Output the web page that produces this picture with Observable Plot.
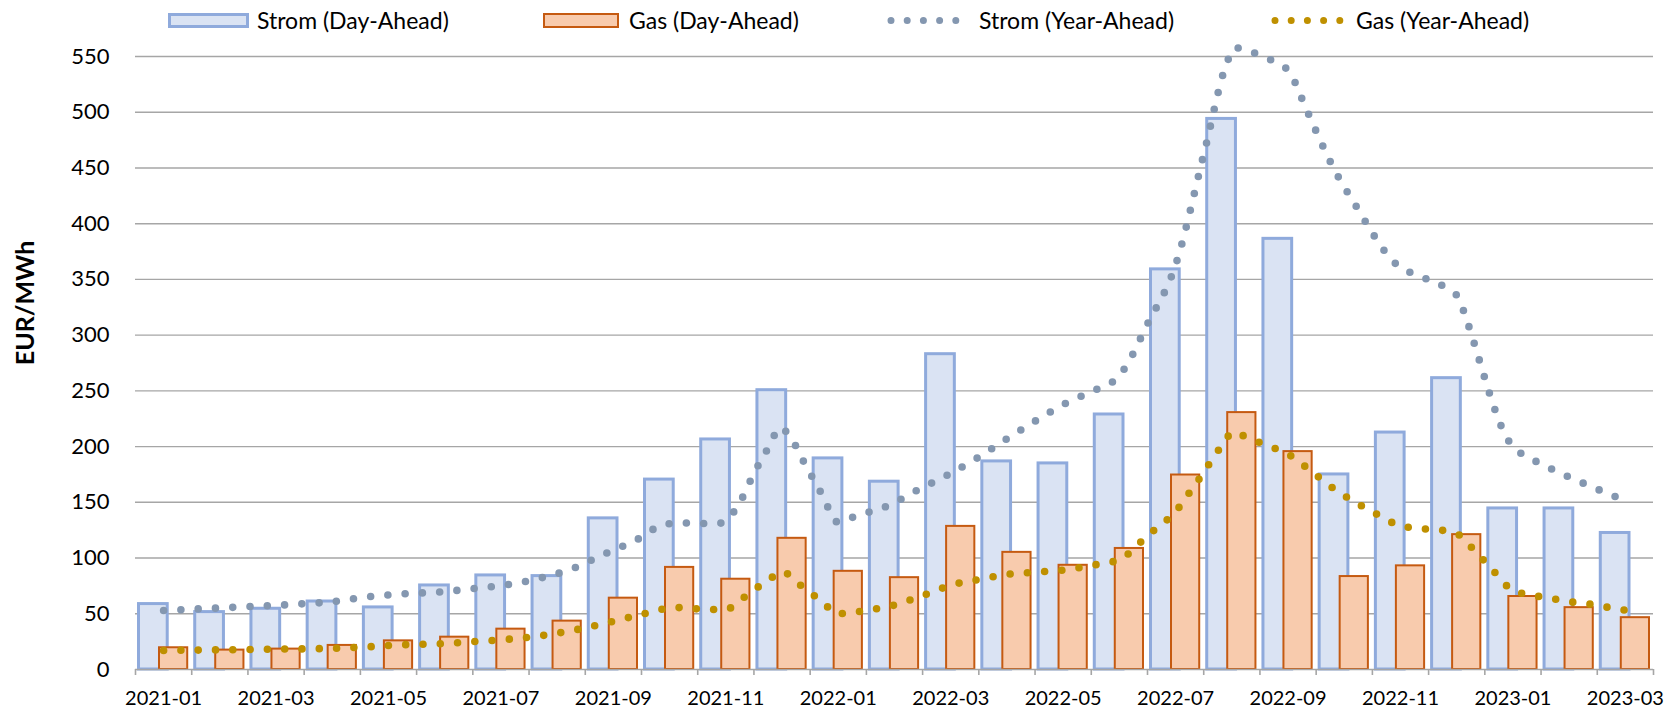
<!DOCTYPE html>
<html>
<head>
<meta charset="utf-8">
<script src="https://cdn.jsdelivr.net/npm/d3@7"></script>
<script src="https://cdn.jsdelivr.net/npm/@observablehq/plot@0.6"></script>
<style>
  html, body { margin: 0; padding: 0; background: #fff; }
  body { width: 1666px; height: 710px; overflow: hidden; font-family: Lato, "Open Sans", sans-serif; color: #000; }
  #legend { position: relative; width: 1666px; height: 36px; font-size: 23px; }
  .sw { box-sizing: border-box; height: 15px; }
  .lbl { position: absolute; top: 6px; white-space: nowrap; line-height: 28px; }
  #chart svg { display: block; }
</style>
</head>
<body>
<div id="legend"></div>
<div id="chart"></div>
<script>
// ---- data ----
const months = ["2021-01","2021-02","2021-03","2021-04","2021-05","2021-06","2021-07","2021-08","2021-09","2021-10","2021-11","2021-12",
                "2022-01","2022-02","2022-03","2022-04","2022-05","2022-06","2022-07","2022-08","2022-09","2022-10","2022-11","2022-12",
                "2023-01","2023-02","2023-03"];
const stromDayAhead = [58.7,51.5,54.5,61,55.7,75.4,84.4,83.8,135.6,170.4,206.4,250.6,
                       189.4,168.5,282.9,186.7,184.9,228.8,359,494,386.4,175,212.6,261.4,
                       144.5,144.5,122.5];
const gasDayAhead = [19.5,17.4,18.3,21.6,25.7,29,36.2,43.4,64,91.6,81,117.7,
                     88.1,82.4,128.4,105.1,93.5,108.6,174.5,230.5,195.5,83.4,93,121,
                     65.5,55.5,46.5];
// year-ahead curves: position in months since 2021-01 start, value EUR/MWh
const stromYearAheadT = [0.5,1.7,2.9,3.5,4.1,4.8,5.4,6.0,6.6,7.2,7.8,8.3,8.9,9.4,9.7,10.35,10.55,10.75,11.0,11.3,11.45,11.6,11.9,12.2,12.5,
                         12.8,13.4,13.9,14.45,15.0,15.5,16.0,16.54,17.1,17.4,17.57,18.0,18.5,19.0,19.41,19.55,19.75,20.31,20.55,20.67,
                         21.45,21.61,22.49,22.76,23.32,23.54,23.64,24.46,24.67,24.94,26.4];
const stromYearAheadV = [53,55.7,58.7,60.8,65,68,69.5,72.5,76,82,91,102.7,116,130,131.5,130.8,136,150,176,203,217,212,185,158,132,
                         137.4,147.3,160.7,174.7,190.6,207,222.8,238.7,251.5,259,268.5,310,363,462,544,558,555.5,543.6,535,521,
                         437,424,361,354.4,342,333,319,202.5,193,186,153.5];
const gasYearAheadT = [0.5,1.1,2.6,3.55,4.15,4.76,5.38,6.0,6.6,7.2,7.8,8.4,9.0,9.6,9.9,10.2,10.5,10.76,11.0,11.26,11.51,11.75,12.0,12.24,12.47,
                       12.78,13.08,13.38,13.67,13.95,14.25,14.54,14.83,15.13,15.44,15.74,16.04,16.34,16.65,16.95,17.25,17.54,17.77,18.0,
                       18.23,18.46,18.64,18.82,19.0,19.16,19.34,19.52,19.8,20.09,20.37,20.64,20.87,21.11,21.36,21.62,21.89,22.15,22.42,
                       22.71,23.01,23.32,23.58,23.79,24.0,24.21,24.42,24.68,24.97,25.28,25.58,25.89,26.19,26.49];
const gasYearAheadV = [17,17.4,18.3,19,20.4,22.2,23,25,27,30.2,35.3,42,49.4,55.6,54.7,53.8,53.8,62.4,71.4,80.4,87.8,78.6,69,59.7,50,
                       51.4,53.8,56.2,60.6,65.4,71.1,76.2,79.2,81.8,85.1,86.3,87.5,88.4,90.2,92.9,95.6,99,109.5,119.6,
                       130,139,151.2,164,176.8,189.3,202,213,207.4,201.8,196.2,188.8,179.4,170.1,160.5,152.3,144.5,137.4,130.3,
                       127,125.8,124.3,119.5,108,96.8,85.3,73.7,68.1,65.5,62.9,60.3,58.5,55.8,53.2];
const yTicks = [0,50,100,150,200,250,300,350,400,450,500,550];
const seriesNames = ["Strom (Day-Ahead)","Gas (Day-Ahead)","Strom (Year-Ahead)","Gas (Year-Ahead)"];
const yLabel = "EUR/MWh";

// ---- styles ----
const C = {
  stromFill: "#dae3f3", stromStroke: "#8faadc",
  gasFill: "#f8cbad", gasStroke: "#c55a11",
  stromYA: "#8497b0", gasYA: "#bf9000",
  grid: "#a6a6a6"
};
const dotW = 7.6, dotGap = 17.3;

// ---- legend ----
const legend = document.getElementById("legend");
function addBox(left, width, fill, stroke, sw, textLeft, text) {
  const b = document.createElement("div");
  b.className = "sw";
  Object.assign(b.style, {position:"absolute", left: left+"px", top:"13px", width: width+"px", background: fill, border: sw+"px solid "+stroke});
  legend.appendChild(b);
  const t = document.createElement("div");
  t.className = "lbl"; t.textContent = text; t.style.left = textLeft + "px";
  legend.appendChild(t);
}
function addDots(left, color, textLeft, text) {
  const ns = "http://www.w3.org/2000/svg";
  const s = document.createElementNS(ns, "svg");
  s.setAttribute("width", 84); s.setAttribute("height", 36);
  Object.assign(s.style, {position:"absolute", left: left+"px", top:"0px"});
  const l = document.createElementNS(ns, "line");
  l.setAttribute("x1", 5); l.setAttribute("x2", 72); l.setAttribute("y1", 20.5); l.setAttribute("y2", 20.5);
  l.setAttribute("stroke", color); l.setAttribute("stroke-width", dotW - 0.6);
  l.setAttribute("stroke-linecap", "round"); l.setAttribute("stroke-dasharray", "0 16.2");
  s.appendChild(l);
  legend.appendChild(s);
  const t = document.createElement("div");
  t.className = "lbl"; t.textContent = text; t.style.left = textLeft + "px";
  legend.appendChild(t);
}
addBox(168, 81, C.stromFill, C.stromStroke, 3, 257, seriesNames[0]);
addBox(543, 76, C.gasFill, C.gasStroke, 2, 629, seriesNames[1]);
addDots(886, C.stromYA, 979, seriesNames[2]);
addDots(1270, C.gasYA, 1356, seriesNames[3]);

// ---- chart ----
const bars = months.map((m, i) => ({i, m, strom: stromDayAhead[i], gas: gasDayAhead[i]}));
const stromYA = stromYearAheadT.map((t, k) => ({t, v: stromYearAheadV[k]}));
const gasYA = gasYearAheadT.map((t, k) => ({t, v: gasYearAheadV[k]}));
const boundaries = d3.range(0, months.length + 1);
const labelPos = months.map((m, i) => i).filter(i => i % 2 === 0).map(i => i + 0.5);

const chart = Plot.plot({
  width: 1666,
  height: 674,
  marginTop: 20,
  marginBottom: 41,
  marginLeft: 135,
  marginRight: 13,
  x: {type: "linear", domain: [0, months.length], axis: null},
  y: {domain: [0, 550], axis: null},
  style: {fontFamily: "Lato, 'Open Sans', sans-serif", color: "#000", background: "#fff", overflow: "visible"},
  marks: [
    Plot.ruleY(yTicks.filter(d => d > 0), {stroke: C.grid, strokeWidth: 1.4}),
    Plot.axisY(yTicks, {anchor: "left", tickSize: 0, tickPadding: 26, fontSize: 22, label: null}),
    Plot.rectY(bars, {x1: d => d.i, x2: d => d.i + 1, y: "strom", fill: C.stromFill, stroke: C.stromStroke, strokeWidth: 3, insetLeft: 3.5, insetRight: 24}),
    Plot.rectY(bars, {x1: d => d.i, x2: d => d.i + 1, y: "gas", fill: C.gasFill, stroke: C.gasStroke, strokeWidth: 2, insetLeft: 24, insetRight: 4}),
    Plot.ruleY([0], {stroke: C.grid, strokeWidth: 1.6}),
    Plot.axisX(boundaries, {anchor: "bottom", tickSize: 6, stroke: C.grid, strokeWidth: 1.6, tickFormat: () => "", label: null}),
    Plot.axisX(labelPos, {anchor: "bottom", tickSize: 0, tickPadding: 21, fontSize: 20, tickFormat: d => months[Math.floor(d)], label: null}),
    Plot.line(stromYA, {x: "t", y: "v", stroke: C.stromYA, strokeWidth: dotW, strokeDasharray: `0 ${dotGap}`, strokeLinecap: "round", curve: "monotone-x"}),
    Plot.line(gasYA, {x: "t", y: "v", stroke: C.gasYA, strokeWidth: dotW, strokeDasharray: `0 ${dotGap}`, strokeLinecap: "round", curve: "monotone-x"}),
    Plot.text([yLabel], {frameAnchor: "left", textAnchor: "middle", dx: -110, dy: -60, rotate: -90, fontSize: 25, fontWeight: "bold", fill: "#000"})
  ]
});
document.getElementById("chart").appendChild(chart);
</script>
</body>
</html>
